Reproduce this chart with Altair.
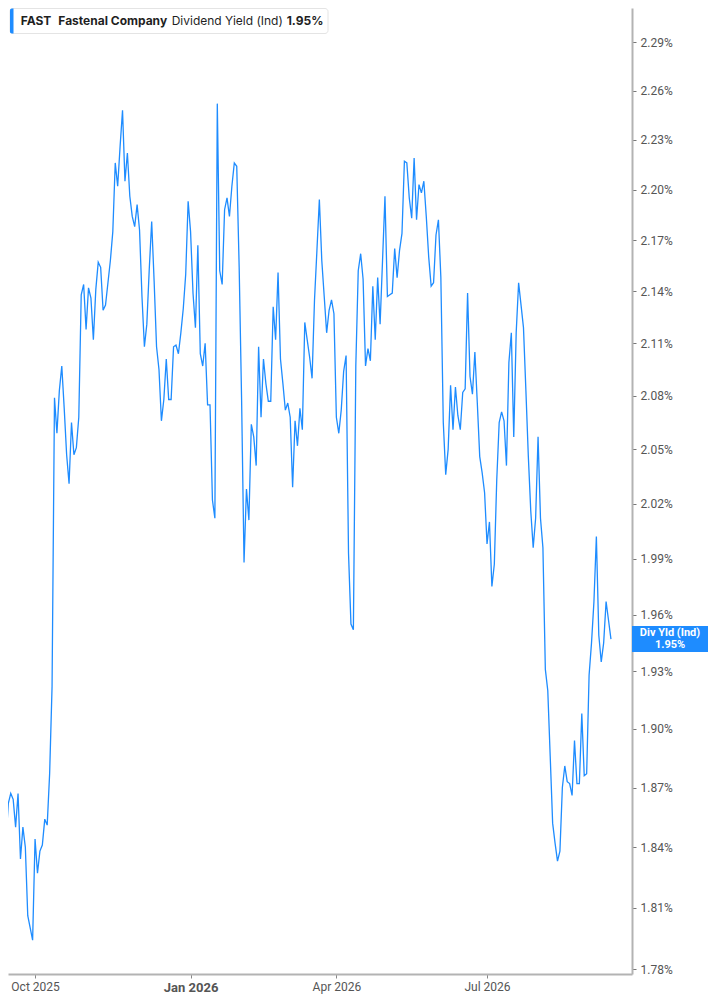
import altair as alt
import pandas as pd

# Dividend yield (%), one value per trading day
div_yield = [
    1.859, 1.855, 1.843, 1.862, 1.867, 1.864, 1.850, 1.867, 1.834, 1.850,
    1.840, 1.806, 1.800, 1.794, 1.844, 1.827, 1.838, 1.841, 1.854, 1.851,
    1.877, 1.922, 2.079, 2.059, 2.083, 2.097, 2.073, 2.047, 2.031, 2.065,
    2.047, 2.051, 2.068, 2.138, 2.144, 2.118, 2.142, 2.136, 2.112, 2.141,
    2.157, 2.154, 2.129, 2.132, 2.145, 2.158, 2.175, 2.216, 2.202, 2.226,
    2.248, 2.205, 2.222, 2.196, 2.184, 2.178, 2.191, 2.176, 2.137, 2.108,
    2.121, 2.153, 2.181, 2.146, 2.108, 2.095, 2.066, 2.078, 2.101, 2.078,
    2.078, 2.108, 2.109, 2.104, 2.116, 2.130, 2.150, 2.193, 2.175, 2.139,
    2.119, 2.167, 2.104, 2.097, 2.110, 2.075, 2.075, 2.022, 2.012, 2.252,
    2.152, 2.144, 2.188, 2.195, 2.184, 2.202, 2.216, 2.214, 2.154, 2.078,
    1.988, 2.028, 2.011, 2.064, 2.057, 2.041, 2.108, 2.068, 2.101, 2.087,
    2.077, 2.077, 2.131, 2.112, 2.151, 2.101, 2.087, 2.072, 2.076, 2.068,
    2.029, 2.066, 2.052, 2.073, 2.061, 2.122, 2.112, 2.102, 2.090, 2.135,
    2.164, 2.194, 2.158, 2.137, 2.116, 2.129, 2.135, 2.127, 2.068, 2.059,
    2.072, 2.094, 2.103, 1.993, 1.955, 1.952, 2.097, 2.152, 2.162, 2.147,
    2.097, 2.107, 2.100, 2.143, 2.112, 2.148, 2.121, 2.158, 2.196, 2.137,
    2.138, 2.139, 2.165, 2.148, 2.164, 2.174, 2.217, 2.216, 2.195, 2.183,
    2.219, 2.182, 2.203, 2.198, 2.205, 2.184, 2.160, 2.143, 2.145, 2.173,
    2.182, 2.148, 2.065, 2.036, 2.050, 2.086, 2.061, 2.085, 2.069, 2.061,
    2.082, 2.084, 2.139, 2.091, 2.081, 2.105, 2.076, 2.046, 2.037, 2.026,
    1.998, 2.010, 1.975, 1.987, 2.033, 2.065, 2.071, 2.066, 2.041, 2.099,
    2.116, 2.057, 2.116, 2.145, 2.132, 2.119, 2.083, 2.046, 2.016, 1.996,
    2.012, 2.057, 2.012, 1.996, 1.931, 1.920, 1.886, 1.852, 1.842, 1.833,
    1.838, 1.870, 1.881, 1.873, 1.872, 1.866, 1.894, 1.872, 1.872, 1.908,
    1.876, 1.877, 1.928, 1.945, 1.967, 2.002, 1.949, 1.935, 1.945, 1.967,
    1.957, 1.947,
]
day_index = list(range(1, len(div_yield) + 1))

# x-axis ticks (trading-day index of first session of the month)
tick_days = [15, 79, 139, 201]
tick_labels = ["Oct 2025", "Jan 2026", "Apr 2026", "Jul 2026"]
bold_day = 79

# y-axis ticks (%)
y_ticks = [1.78, 1.81, 1.84, 1.87, 1.90, 1.93, 1.96, 1.99, 2.02, 2.05,
           2.08, 2.11, 2.14, 2.17, 2.20, 2.23, 2.26, 2.29]

ticker = "FAST"
company = "Fastenal Company"
metric = "Dividend Yield (Ind)"
last_text = "1.95%"
tag_text = "Div Yld (Ind)"

BLUE = "#1e8cff"

df = pd.DataFrame({"day": day_index, "yld": div_yield})
last = df.tail(1)
one = pd.DataFrame({"k": [0]})

label_expr = ""
for d, lab in zip(tick_days, tick_labels):
    label_expr += f"datum.value == {d} ? '{lab}' : "
label_expr += "''"

x_scale = alt.Scale(domain=[3.868, 260.66], nice=False, zero=False)
y_scale = alt.Scale(type="log", domain=[1.7776, 2.3113], nice=False)

x_axis = alt.Axis(
    values=tick_days, labelExpr=label_expr, orient="bottom", grid=False,
    title=None, domainColor="#b3b3b3", domainWidth=2, tickColor="#888",
    tickSize=4, tickWidth=1, labelFont="Roboto", labelColor="#555",
    labelFontSize={"condition": {"test": f"datum.value == {bold_day}", "value": 13}, "value": 12},
    labelFontWeight={"condition": {"test": f"datum.value == {bold_day}", "value": "bold"}, "value": "normal"},
    labelPadding=3, labelOverlap=False, labelFlush=False,
)
y_axis = alt.Axis(
    values=y_ticks, orient="right", labelExpr="format(datum.value, '.2f') + '%'",
    grid=False, title=None, domainColor="#b3b3b3", domainWidth=2,
    tickColor="#777", tickSize=4, tickWidth=1, labelFont="Roboto",
    labelFontSize=12, labelColor="#555", labelPadding=4, labelOverlap=False,
)

line = alt.Chart(df).mark_line(color=BLUE, strokeWidth=1.3, clip=True).encode(
    x=alt.X("day:Q", scale=x_scale, axis=x_axis),
    y=alt.Y("yld:Q", scale=y_scale, axis=y_axis, title=None),
)

# value tag on the right axis (76 x 26 px box)
box_path = "M-1,-0.3421L1,-0.3421L1,0.3421L-1,0.3421Z"
tag_box = alt.Chart(last).mark_point(
    shape=box_path, size=76 * 76, filled=True, fill=BLUE, opacity=1, strokeWidth=0
).encode(x=alt.value(662), y=alt.Y("yld:Q", title=None))


def tag_line(txt, dy):
    return alt.Chart(last).mark_text(
        color="white", font="Roboto", fontSize=11, fontWeight="bold",
        align="center", baseline="middle", dy=dy,
    ).encode(x=alt.value(662), y=alt.Y("yld:Q", title=None), text=alt.value(txt))


leg_box = alt.Chart(one).mark_rect(
    fill="white", stroke="#e4e4e4", strokeWidth=1, cornerRadius=3
).encode(x=alt.value(2), x2=alt.value(320), y=alt.value(0.5), y2=alt.value(25.5))

leg_bar = alt.Chart(one).mark_rect(
    fill=BLUE, cornerRadiusTopLeft=2, cornerRadiusBottomLeft=2
).encode(x=alt.value(2), x2=alt.value(5.5), y=alt.value(0.5), y2=alt.value(25.5))


def leg_text(txt, x, weight):
    return alt.Chart(one).mark_text(
        align="left", baseline="middle", font="Inter", fontSize=12,
        fontWeight=weight, color="#1f1f1f",
    ).encode(x=alt.value(x), y=alt.value(13), text=alt.value(txt))


chart = alt.layer(
    line, tag_box, tag_line(tag_text, -5.6), tag_line(last_text, 5.6),
    leg_box, leg_bar,
    leg_text(ticker, 12.7, "bold"),
    leg_text(company, 50.3, "bold"),
    leg_text(metric, 163.7, "normal"),
    leg_text(last_text, 278.7, "bold"),
).properties(
    width=624, height=966,
    padding={"left": 0, "top": 0, "right": 0, "bottom": 0},
    background="white",
).configure_view(stroke=None)

chart.save("out.html", embed_options={"renderer": "svg", "actions": False})
